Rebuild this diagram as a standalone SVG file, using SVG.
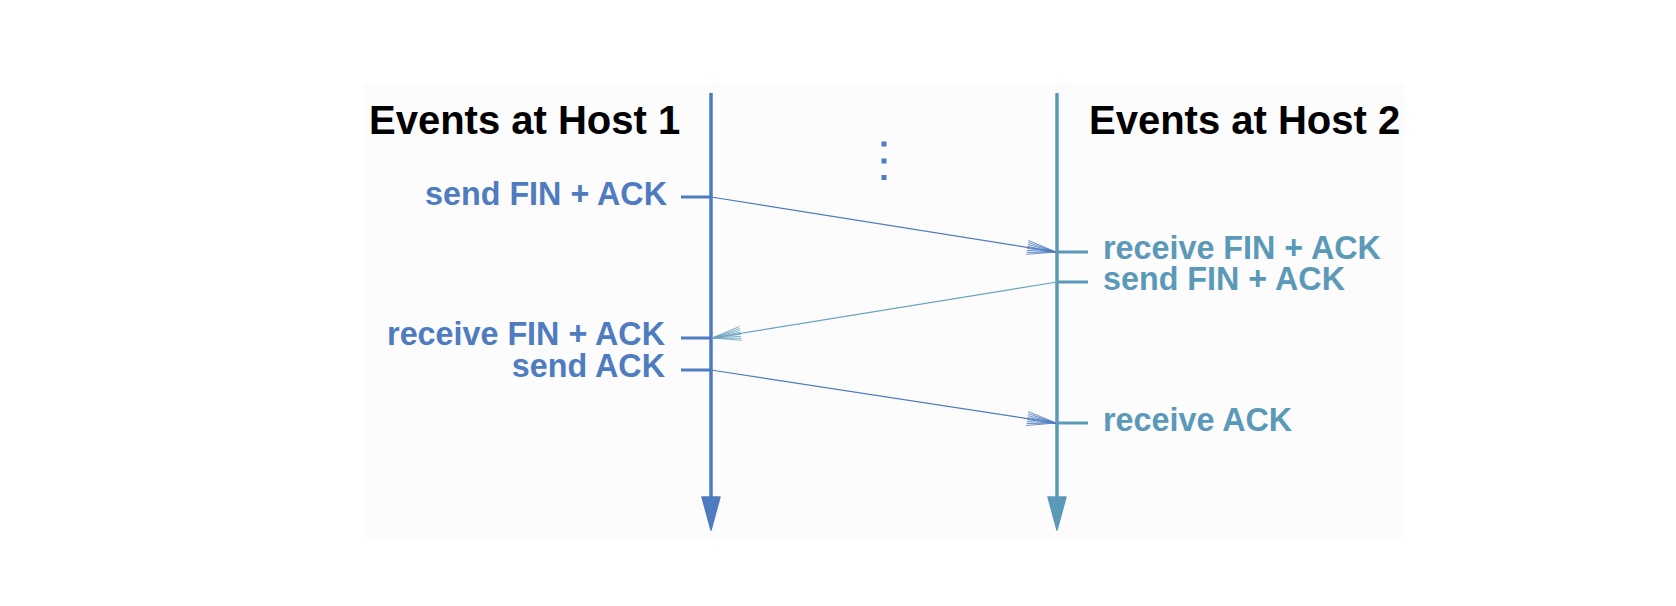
<svg xmlns="http://www.w3.org/2000/svg" width="1676" height="606" viewBox="0 0 1676 606">
<style>
.title{font-family:"Liberation Sans",Arial,sans-serif;font-weight:bold;font-size:40px;fill:#000}
.lbl{font-family:"Liberation Sans",Arial,sans-serif;font-weight:bold;font-size:32.3px}
.h1{fill:#4f7bc0}
.h2{fill:#5b99b9}
.axis1{stroke:#4f7bc0;stroke-width:3.5;fill:none}
.axis2{stroke:#5b99b9;stroke-width:3.5;fill:none}
.tick1{stroke:#4f7bc0;stroke-width:3;fill:none}
.tick2{stroke:#5b99b9;stroke-width:3;fill:none}
.msg1{stroke:#4f7bc0;stroke-width:1.2;fill:none}
.msg2{stroke:#6aa3c0;stroke-width:1.2;fill:none}
</style>
<defs>
<marker id="fan1" viewBox="-32 -9 34 18" markerWidth="34" markerHeight="18" refX="0" refY="0" orient="auto" markerUnits="userSpaceOnUse">
<path d="M0,0L-29,-7M0,0L-29,-5M0,0L-29,-3M0,0L-29,-1M0,0L-29,1M0,0L-29,3M0,0L-29,5M0,0L-29,7" stroke="#4f7bc0" stroke-width="0.8" fill="none"/>
</marker>
<marker id="fan2" viewBox="-32 -9 34 18" markerWidth="34" markerHeight="18" refX="0" refY="0" orient="auto" markerUnits="userSpaceOnUse">
<path d="M0,0L-29,-7M0,0L-29,-5M0,0L-29,-3M0,0L-29,-1M0,0L-29,1M0,0L-29,3M0,0L-29,5M0,0L-29,7" stroke="#6aa3c0" stroke-width="0.8" fill="none"/>
</marker>
</defs>
<rect x="0" y="0" width="1676" height="606" fill="#ffffff"/>
<rect x="363" y="83" width="1042" height="455" fill="#fcfcfc"/>

<g id="host1">
<text class="title" x="369" y="134">Events at Host 1</text>
<line class="axis1" x1="711" y1="93" x2="711" y2="500"/>
<polygon points="702,497 720,497 711,530" fill="#4f7bc0" stroke="#4f7bc0" stroke-width="1.5" stroke-linejoin="round"/>
</g>

<g id="host2">
<text class="title" x="1089" y="134">Events at Host 2</text>
<line class="axis2" x1="1057" y1="93" x2="1057" y2="500"/>
<polygon points="1048,497 1066,497 1057,530" fill="#5b99b9" stroke="#5b99b9" stroke-width="1.5" stroke-linejoin="round"/>
</g>

<g id="dots" fill="#4f7bc0">
<rect x="881.5" y="141.5" width="5" height="5"/>
<rect x="881.5" y="158.5" width="5" height="5"/>
<rect x="881.5" y="175" width="5" height="5"/>
</g>

<g id="e1-send-finack">
<text class="lbl h1" x="667" y="205" text-anchor="end">send FIN + ACK</text>
<line class="tick1" x1="681" y1="197" x2="711" y2="197"/>
</g>
<g id="e2-recv-finack">
<line class="tick2" x1="1057" y1="252" x2="1088" y2="252"/>
<text class="lbl h2" x="1103" y="259">receive FIN + ACK</text>
</g>
<g id="e2-send-finack">
<line class="tick2" x1="1057" y1="282" x2="1088" y2="282"/>
<text class="lbl h2" x="1103" y="290">send FIN + ACK</text>
</g>
<g id="e1-recv-finack">
<text class="lbl h1" x="665" y="345" text-anchor="end">receive FIN + ACK</text>
<line class="tick1" x1="681" y1="338" x2="711" y2="338"/>
</g>
<g id="e1-send-ack">
<text class="lbl h1" x="665" y="377" text-anchor="end">send ACK</text>
<line class="tick1" x1="681" y1="370" x2="711" y2="370"/>
</g>
<g id="e2-recv-ack">
<line class="tick2" x1="1057" y1="423" x2="1088" y2="423"/>
<text class="lbl h2" x="1103" y="431">receive ACK</text>
</g>

<g id="connectors">
<line class="msg1" x1="711" y1="197" x2="1056" y2="252" marker-end="url(#fan1)"/>
<line class="msg2" x1="1057" y1="282" x2="712" y2="338" marker-end="url(#fan2)"/>
<line class="msg1" x1="711" y1="370" x2="1056" y2="423" marker-end="url(#fan1)"/>
</g>
</svg>
